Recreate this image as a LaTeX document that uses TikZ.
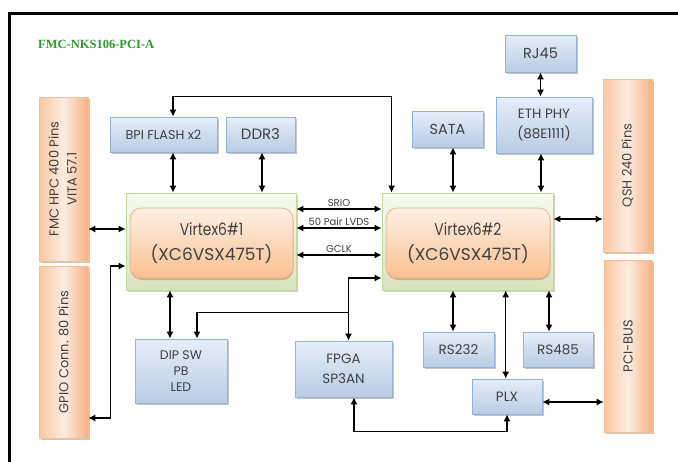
\documentclass[tikz,border=0pt]{standalone}
\usepackage{fontspec}
\usepackage{graphicx}
\setmainfont{Poppins}
\newfontfamily\titlefont{Liberation Serif}
\usetikzlibrary{shadows,arrows.meta}
\definecolor{txt}{HTML}{404040}
\definecolor{titlegreen}{HTML}{2E9A2E}
\definecolor{bluedraw}{HTML}{95B3D7}
\definecolor{bluetop}{HTML}{E6EEF8}
\definecolor{bluebot}{HTML}{B8CCE4}
\definecolor{orgdraw}{HTML}{F4C09A}
\definecolor{orgleft}{HTML}{F9C8A0}
\definecolor{orgmid}{HTML}{FDECE0}
\definecolor{orgright}{HTML}{F6B183}
\definecolor{grdraw}{HTML}{C3D69B}
\definecolor{grtop}{HTML}{F7FAF0}
\definecolor{grbot}{HTML}{D7E4BD}
\definecolor{intop}{HTML}{FDF0E4}
\definecolor{inbot}{HTML}{FAC090}
\definecolor{indraw}{HTML}{F2B48A}
\tikzset{
  shd/.style={drop shadow={shadow xshift=1.5pt, shadow yshift=-1.5pt, fill=black!50, opacity=0.45}},
  bluebox/.style={shd, draw=bluedraw, top color=bluetop, bottom color=bluebot, line width=0.8pt,
    text=txt, align=center, inner sep=0pt, font=\fontsize{13.5}{20}\selectfont},
  conn/.style={shd, draw=orgdraw, left color=orgleft, right color=orgright, middle color=orgmid,
    line width=0.6pt, text=txt, inner sep=0pt, font=\fontsize{13}{20}\selectfont},
  fpgaouter/.style={drop shadow={shadow xshift=1.5pt, shadow yshift=-1.5pt, fill=grdraw!80!black, opacity=0.5},
    draw=grdraw, top color=grtop, bottom color=grbot, line width=0.8pt, inner sep=0pt},
  fpgainner/.style={drop shadow={shadow xshift=0.5pt, shadow yshift=-2pt, fill=indraw!70!black, opacity=0.5},
    draw=indraw, top color=intop, bottom color=inbot, line width=0.8pt, rounded corners=11pt,
    text=txt, align=center, inner sep=0pt, font=\fontsize{17}{25}\selectfont},
  link/.style={line width=1.2pt, black, {Latex[length=7pt,width=7pt]}-{Latex[length=7pt,width=7pt]}},
  onelink/.style={line width=1.2pt, black, -{Latex[length=7pt,width=7pt]}},
  lbl/.style={text=txt, font=\fontsize{10}{11}\selectfont, inner sep=1.5pt}
}
\begin{document}
\begin{tikzpicture}[x=1pt,y=-1pt]
\useasboundingbox (0,0) rectangle (678,461);
\fill[white] (0,0) rectangle (678,461);
\begin{scope}
\clip (0,0) rectangle (678,461);
\draw[line width=3pt] (9,13) rectangle (720,490);
\end{scope}

\node[font=\titlefont\bfseries\fontsize{12.5}{14}\selectfont, text=titlegreen, anchor=west, inner sep=0pt] (title) at (38,44) {FMC-NKS106-PCI-A};

% connectors (orange)
\node[conn, minimum width=49pt, minimum height=164pt] (fmc) at (63.5,179)
  {\rotatebox{90}{\begin{tabular}{@{}c@{}}FMC HPC 400 Pins\\[-2pt]VITA 57.1\end{tabular}}};
\node[conn, minimum width=49pt, minimum height=172pt] (gpio) at (63.5,352)
  {\rotatebox{90}{GPIO Conn. 80 Pins}};
\node[conn, minimum width=49pt, minimum height=173pt] (qsh) at (627.5,165.5)
  {\rotatebox{90}{QSH 240 Pins}};
\node[conn, minimum width=48pt, minimum height=172pt] (pci) at (628,346)
  {\rotatebox{90}{PCI-BUS}};

% blue boxes
\node[bluebox, minimum width=107pt, minimum height=35pt, font=\fontsize{12.8}{14}\selectfont] (bpi) at (163.5,134.5) {BPI FLASH x2};
\node[bluebox, minimum width=69pt, minimum height=35pt, font=\fontsize{15}{16}\selectfont] (ddr) at (260.5,134.5) {DDR3};
\node[bluebox, minimum width=71pt, minimum height=36pt, font=\fontsize{14.5}{16}\selectfont] (sata) at (447.5,129) {SATA};
\node[bluebox, minimum width=71pt, minimum height=37pt, font=\fontsize{14.5}{16}\selectfont] (rj) at (540.5,53.5) {RJ45};
\node[bluebox, minimum width=96pt, minimum height=56pt] (eth) at (544,125) {ETH PHY\\(88E1111)};
\node[bluebox, minimum width=92pt, minimum height=64pt, font=\fontsize{12.5}{16}\selectfont] (dip) at (181,371) {DIP SW\\PB\\LED};
\node[bluebox, minimum width=97pt, minimum height=56pt] (fpga) at (343.5,369) {FPGA\\SP3AN};
\node[bluebox, minimum width=71pt, minimum height=35pt] (rs232) at (458.5,349.5) {RS232};
\node[bluebox, minimum width=70pt, minimum height=35pt] (rs485) at (558,349.5) {RS485};
\node[bluebox, minimum width=70pt, minimum height=35pt] (plx) at (507,396.5) {PLX};

% Virtex FPGAs
\node[fpgaouter, minimum width=170pt, minimum height=97pt] (v1) at (211,241.5) {};
\node[fpgainner, minimum width=163pt, minimum height=70pt] (v1in) at (211.5,243) {\scalebox{0.82}[1]{Virtex6\#1}\\(XC6VSX475T)};
\node[fpgaouter, minimum width=171pt, minimum height=97pt] (v2) at (467.5,241.5) {};
\node[fpgainner, minimum width=164pt, minimum height=70pt] (v2in) at (468,243) {\scalebox{0.82}[1]{Virtex6\#2}\\(XC6VSX475T)};

% links
\draw[link] ([xshift=9.5pt]bpi.north) -- ++(0,-20) -| ([xshift=10pt]v2.north west);
\draw[link] ([xshift=9.5pt]bpi.south) -- ([xshift=9.5pt]bpi.south |- v1.north);
\draw[link] ([xshift=1.5pt]ddr.south) -- ([xshift=1.5pt]ddr.south |- v1.north);
\draw[link] (rj.south) -- (rj.south |- eth.north);
\draw[link] ([xshift=-3pt]eth.south) -- ([xshift=-3pt]eth.south |- v2.north);
\draw[link] ([xshift=5.5pt]sata.south) -- ([xshift=5.5pt]sata.south |- v2.north);
\draw[link] ([yshift=-50pt]fmc.east) -- ([yshift=-50pt]fmc.east -| v1.west);
\draw[link] ([yshift=-66pt]gpio.east) -- ++(22,0) |- ([yshift=-24.5pt]v1.west);
\draw[link] ([yshift=32.5pt]v1.east) -- node[lbl, above] (lsrio) {SRIO} ([yshift=32.5pt]v1.east -| v2.west);
\draw[link] ([yshift=13.5pt]v1.east) -- node[lbl, above] (llvds) {50 Pair LVDS} ([yshift=13.5pt]v1.east -| v2.west);
\draw[link] ([yshift=-13.5pt]v1.east) -- node[lbl, above] (lgclk) {GCLK} ([yshift=-13.5pt]v1.east -| v2.west);
\draw[link] ([xshift=5pt]fpga.north) |- ([yshift=-36.5pt]v2.west);
\draw[onelink] ([xshift=5pt,yshift=28pt]fpga.north) -| ([xshift=16pt]dip.north);
\draw[link] ([xshift=-11pt]dip.north) -- ([xshift=-11pt]dip.north |- v1.south);
\draw[link] ([xshift=-5.5pt]rs232.north) -- ([xshift=-5.5pt]rs232.north |- v2.south);
\draw[link] ([xshift=-9pt]rs485.north) -- ([xshift=-9pt]rs485.north |- v2.south);
\draw[link] ([xshift=-1.3pt]plx.north) -- ([xshift=-1.3pt]plx.north |- v2.south);
\draw[link] ([yshift=-5.5pt]plx.east) -- ([yshift=-5.5pt]plx.east -| pci.west);
\draw[link] ([xshift=10.5pt]fpga.south) -- ++(0,34) -| (plx.south);
\draw[link] ([yshift=22.5pt]v2.east) -- ([yshift=22.5pt]v2.east -| qsh.west);
\end{tikzpicture}
\end{document}
